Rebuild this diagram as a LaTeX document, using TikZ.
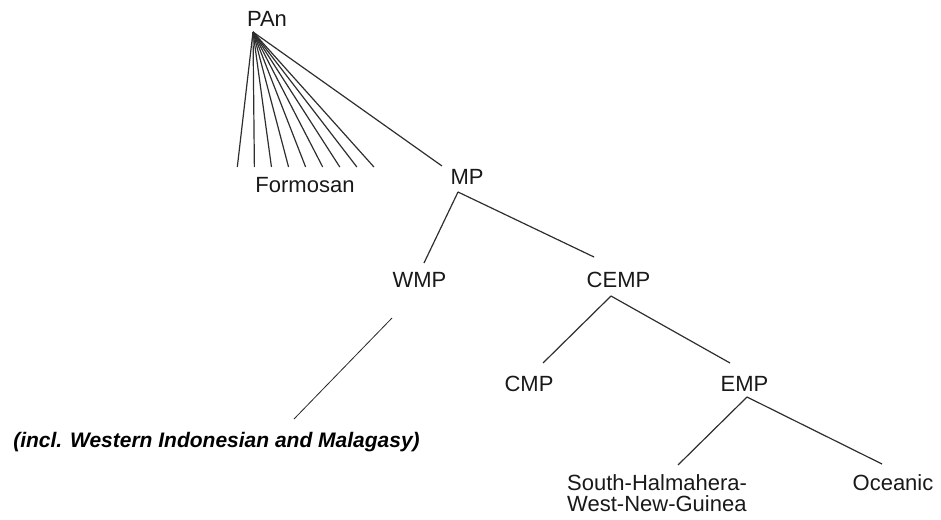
\documentclass[tikz,border=0pt]{standalone}
\usepackage{fontspec}
\setmainfont{Liberation Sans}
\begin{document}
\begin{tikzpicture}[x=1pt,y=-1pt,
  lbl/.style={font=\fontsize{22}{21}\selectfont, inner sep=0pt, anchor=base, text=black!90},
  edge/.style={line width=1.2pt, draw=black!82},
  thinedge/.style={line width=0.8pt, draw=black!85}]
\useasboundingbox (0,0) rectangle (941,519);
% nodes
\node[lbl] (PAn) at (267,27) {PAn};
\node[lbl] (Formosan) at (305,192) {Formosan};
\node[lbl] (MP) at (467,184) {MP};
\node[lbl] (WMP) at (419.5,287) {WMP};
\node[lbl] (CEMP) at (618.5,287) {CEMP};
\node[lbl] (CMP) at (529,391) {CMP};
\node[lbl] (EMP) at (744.5,391) {EMP};
\node[lbl, align=left, anchor=base west] (SHWNG) at (567,511) {South-Halmahera-\\West-New-Guinea};
\node[lbl] (Oceanic) at (893,490) {Oceanic};
\node[lbl, font=\fontsize{21}{21}\selectfont\bfseries\itshape, text=black] (incl) at (216.5,447) {(incl. Western Indonesian and Malagasy)};
% connector end points
\coordinate (apex) at (253,32);
\foreach \k in {0,...,8} {\coordinate (f\k) at ({237.3+17.08*\k},167);}
\coordinate (mpN) at (442,166);
\coordinate (mpS) at (458,192);
\coordinate (wmpN) at (424,263);
\coordinate (cempN) at (594,257);
\coordinate (cempS) at (611,296);
\coordinate (cmpN) at (543,363);
\coordinate (empN) at (730,363);
\coordinate (empS) at (747,397);
\coordinate (shN) at (678,465);
\coordinate (ocN) at (882,464);
\coordinate (wmpS) at (392,318);
\coordinate (inclN) at (294,419);
% connectors
\foreach \k in {0,...,8} {\draw[edge] (apex) -- (f\k);}
\draw[edge] (apex) -- (mpN);
\draw[edge] (mpS) -- (wmpN);
\draw[edge] (mpS) -- (cempN);
\draw[edge] (cempS) -- (cmpN);
\draw[edge] (cempS) -- (empN);
\draw[edge] (empS) -- (shN);
\draw[edge] (empS) -- (ocN);
\draw[thinedge] (wmpS) -- (inclN);
\end{tikzpicture}
\end{document}
